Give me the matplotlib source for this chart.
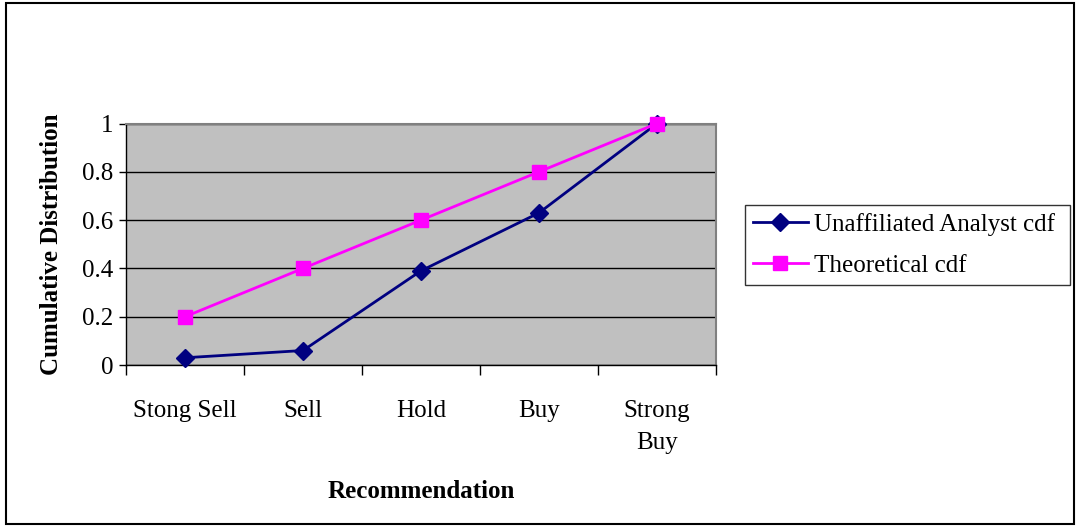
import matplotlib.pyplot as plt
from matplotlib.patches import Rectangle
import numpy as np

plt.rcParams['font.family'] = ['Liberation Serif', 'DejaVu Serif']

categories = ['Stong Sell', 'Sell', 'Hold', 'Buy', 'Strong\nBuy']
analyst_cdf = [0.03, 0.06, 0.39, 0.63, 1.0]
theoretical_cdf = [0.2, 0.4, 0.6, 0.8, 1.0]

fig = plt.figure(figsize=(10.78, 5.27), dpi=100)
ax = fig.add_axes([126 / 1078, 1 - 365 / 527, 590 / 1078, 241.5 / 527])

# outer chart frame
fig.patches.append(Rectangle((6 / 1078, 3 / 527), 1068 / 1078, 521 / 527,
                             transform=fig.transFigure, fill=False,
                             edgecolor='black', linewidth=1.5))

x = np.arange(len(categories))
ax.set_facecolor('#C0C0C0')
ax.plot(x, analyst_cdf, color='#000080', linewidth=2, marker='D',
        markersize=9, label='Unaffiliated Analyst cdf', zorder=3, clip_on=False)
ax.plot(x, theoretical_cdf, color='#FF00FF', linewidth=2, marker='s',
        markersize=10, label='Theoretical cdf', zorder=4, clip_on=False)

ax.set_xlim(-0.5, 4.5)
ax.set_ylim(0, 1)
ax.set_yticks(np.arange(0, 1.01, 0.2))
ax.set_yticklabels(['0', '0.2', '0.4', '0.6', '0.8', '1'], fontsize=18)
ax.yaxis.grid(True, color='black', linewidth=1)
ax.set_axisbelow(True)

# category labels centred, tick marks on the boundaries
ax.set_xticks(x)
ax.set_xticklabels(categories, fontsize=18, linespacing=1.6)
ax.tick_params(axis='x', length=0, pad=25)
ax.set_xticks(np.arange(-0.5, 4.6, 1), minor=True)
ax.tick_params(axis='x', which='minor', length=7, width=1, direction='out')
ax.tick_params(axis='y', length=5, width=1, direction='out', pad=4)

for side in ['top', 'right']:
    ax.spines[side].set_color('#808080')
    ax.spines[side].set_linewidth(1.5)
for side in ['left', 'bottom']:
    ax.spines[side].set_color('black')
    ax.spines[side].set_linewidth(1)

ax.set_xlabel('Recommendation', fontsize=18, fontweight='bold', labelpad=19)
ax.set_ylabel('Cumulative Distribution', fontsize=18, fontweight='bold', labelpad=14)

leg = ax.legend(loc='center left', bbox_to_anchor=(745 / 1078, 1 - 286 / 527, 325 / 1078, 82 / 527),
                bbox_transform=fig.transFigure, mode='expand', fontsize=18,
                frameon=True, fancybox=False, handlelength=2.2, handletextpad=0.25,
                borderpad=0.3, labelspacing=0.75, borderaxespad=0)
leg.get_frame().set_edgecolor('black')
leg.get_frame().set_linewidth(1)

fig.savefig('out.png', dpi=100)
